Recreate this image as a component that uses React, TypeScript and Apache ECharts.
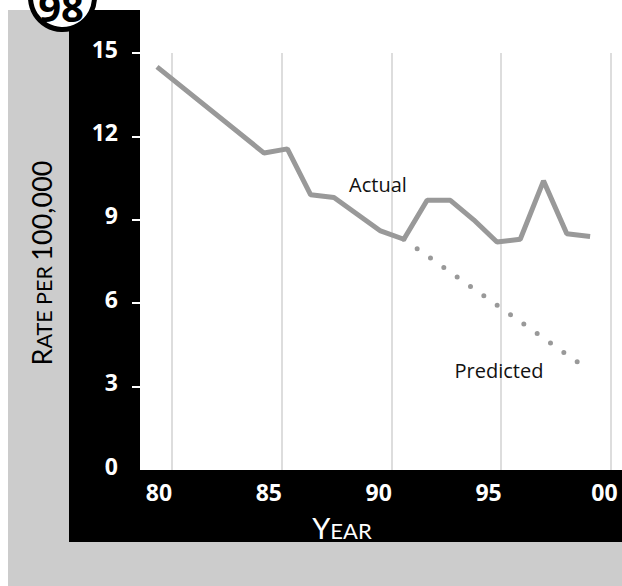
import React, { useEffect, useRef } from 'react';
import * as echarts from 'echarts';

// ---- data ----
const actualYears = [80.4, 85, 86, 87, 88, 89, 90, 91, 92, 93, 94, 95, 96, 97, 98, 99];
const actualRates = [14.5, 11.4, 11.55, 9.9, 9.8, 9.2, 8.6, 8.3, 9.7, 9.7, 9.0, 8.2, 8.3, 10.4, 8.5, 8.4];
const predictedYears = [91, 98.6];
const predictedRates = [8.3, 3.8];
const yTickValues = [3, 6, 9, 12, 15];
const xTickLabels = ['80', '85', '90', '95', '00'];

const LINE_GRAY = '#999999';
const TICK_FONT = 'Open Sans';

export default function App() {
  const ref = useRef<HTMLDivElement>(null);

  useEffect(() => {
    if (!ref.current) return;
    const chart = echarts.init(ref.current, undefined, { renderer: 'svg' });

    const tickRich = {
      n: { color: '#fff', fontFamily: TICK_FONT, fontWeight: 'bold', fontSize: 23, lineHeight: 24, padding: [0, 25, 0, 0] },
      e: { color: '#fff', fontFamily: TICK_FONT, fontWeight: 'bold', fontSize: 23, lineHeight: 24, padding: [0, 13, 0, 0] },
    };

    const option: any = {
      animation: false,
      grid: [
        { left: 140, right: 0, top: 53, bottom: 116, outerBoundsMode: 'none', containLabel: false },
        { left: 171.5, right: 11, top: 53, bottom: 116, outerBoundsMode: 'none', containLabel: false },
      ],
      xAxis: [
        { type: 'value', gridIndex: 0, min: 79.67, max: 100.37, show: false },
        {
          type: 'value', gridIndex: 1, min: 0, max: 4, interval: 1,
          axisLine: { show: false }, axisTick: { show: false },
          splitLine: { show: true, lineStyle: { color: '#dddddd', width: 2 } },
          axisLabel: {
            show: true, margin: 10, showMinLabel: true, showMaxLabel: true, hideOverlap: false,
            formatter: (v: number) => {
              const i = Math.round(v);
              const t = xTickLabels[i];
              return i === xTickLabels.length - 1 ? `{e|${t}}` : `{n|${t}}`;
            },
            rich: tickRich,
          },
        },
      ],
      yAxis: [
        {
          type: 'value', gridIndex: 0, min: 0, max: 15, interval: 3,
          axisLine: { show: false },
          splitLine: { show: false },
          axisTick: { show: true, customValues: yTickValues, length: 8, lineStyle: { color: '#ffffff', width: 2 } },
          axisLabel: {
            color: '#ffffff', fontFamily: TICK_FONT, fontWeight: 'bold', fontSize: 23,
            margin: 22, verticalAlign: 'bottom', lineHeight: 9,
          },
        },
        { type: 'value', gridIndex: 1, min: 0, max: 15, show: false },
      ],
      graphic: [
        { type: 'rect', z: -30, silent: true, shape: { x: 8, y: 10, width: 614, height: 576 }, style: { fill: '#cccccc' } },
        { type: 'rect', z: -29, silent: true, shape: { x: 69, y: 10, width: 553, height: 532 }, style: { fill: '#000000' } },
        { type: 'rect', z: -28, silent: true, shape: { x: 140, y: 0, width: 482, height: 470 }, style: { fill: '#ffffff' } },
        { type: 'circle', z: 50, silent: true, shape: { cx: 62.5, cy: -2.5, r: 32 }, style: { fill: '#ffffff', stroke: '#000000', lineWidth: 5 } },
        {
          type: 'text', z: 51, silent: true, x: 61, y: 6,
          style: { text: '98', fill: '#000', font: 'bold 40px "Open Sans"', align: 'center', verticalAlign: 'middle' },
        },
        {
          type: 'text', z: 51, silent: true, x: 38.5, y: 263, rotation: Math.PI / 2,
          style: {
            text: '{a|R}{b|ATE PER }{a|100,000}', align: 'center', verticalAlign: 'middle', fill: '#000',
            rich: {
              a: { fontFamily: 'Lato', fontSize: 27, fill: '#000', color: '#000', verticalAlign: 'bottom', lineHeight: 32 },
              b: { fontFamily: 'Lato', fontSize: 21.5, fill: '#000', color: '#000', verticalAlign: 'bottom', lineHeight: 26 },
            },
          },
        },
        {
          type: 'text', z: 51, silent: true, x: 342, y: 524,
          style: {
            text: '{a|Y}{b|EAR}', align: 'center', verticalAlign: 'middle', fill: '#fff',
            rich: {
              a: { fontFamily: 'Lato', fontSize: 29, fill: '#fff', color: '#fff', verticalAlign: 'bottom', lineHeight: 35 },
              b: { fontFamily: 'Lato', fontSize: 22, fill: '#fff', color: '#fff', verticalAlign: 'bottom', lineHeight: 26 },
            },
          },
        },
        {
          type: 'text', z: 51, silent: true, x: 378, y: 184,
          style: { text: 'Actual', fill: '#111', font: '20px "Open Sans"', align: 'center', verticalAlign: 'middle' },
        },
        {
          type: 'text', z: 51, silent: true, x: 499, y: 370,
          style: { text: 'Predicted', fill: '#111', font: '20px "Open Sans"', align: 'center', verticalAlign: 'middle' },
        },
      ],
      series: [
        {
          name: 'Predicted', type: 'line', xAxisIndex: 0, yAxisIndex: 0,
          data: predictedYears.map((y, i) => [y, predictedRates[i]]),
          symbol: 'none', silent: true,
          lineStyle: { color: LINE_GRAY, width: 5, type: [0, 16.33], cap: 'round' },
        },
        {
          name: 'Actual', type: 'line', xAxisIndex: 0, yAxisIndex: 0,
          data: actualYears.map((y, i) => [y, actualRates[i]]),
          symbol: 'none', silent: true,
          lineStyle: { color: LINE_GRAY, width: 5 },
        },
        { type: 'line', xAxisIndex: 1, yAxisIndex: 1, data: [], symbol: 'none' },
      ],
    };

    chart.setOption(option);
    return () => chart.dispose();
  }, []);

  return <div ref={ref} style={{ position: 'absolute', left: 0, top: 0, width: 622, height: 586 }} />;
}
